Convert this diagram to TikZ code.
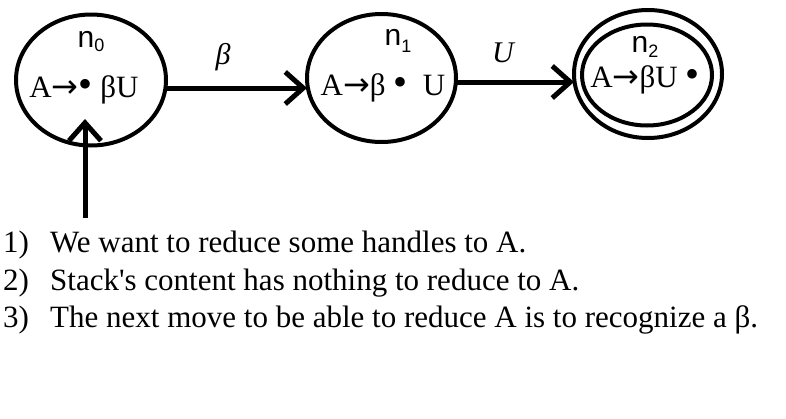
\documentclass[tikz,border=0pt]{standalone}
\usepackage{fontspec}
\setmainfont{Liberation Serif}
\newfontfamily\plainfont{Liberation Serif}
\newfontfamily\handfont{Liberation Sans}
\newfontfamily\arfont{DejaVu Sans}
\usetikzlibrary{shapes.geometric,arrows.meta}
\newcommand{\ar}{{\arfont\fontsize{32}{32}\selectfont →}}
\newcommand{\bul}{{\fontsize{40}{40}\selectfont •}}
\begin{document}
\begin{tikzpicture}[x=1pt,y=-1pt,
  state/.style={draw,ellipse,line width=4pt,inner sep=0pt,outer sep=0pt},
  item/.style={font=\fontsize{31}{31}\selectfont,inner sep=0pt},
  lab/.style={font=\fontsize{30}{30}\selectfont\itshape,inner sep=0pt},
  hand/.style={font=\fontsize{30}{30}\handfont,inner sep=0pt},
  txt/.style={font=\fontsize{31}{31}\plainfont,inner sep=0pt,anchor=base west},
  arr/.style={line width=5pt,-{Straight Barb[length=18pt,width=32pt,line width=5pt]}}
]
\useasboundingbox (0,0) rectangle (786,418);
\node[state,minimum width=150pt,minimum height=131pt] (n0) at (91,80) {};
\node[state,minimum width=149pt,minimum height=128pt] (n1) at (381.5,78) {};
\node[state,minimum width=148pt,minimum height=128pt] (n2) at (648,74) {};
\node[state,minimum width=130pt,minimum height=101pt] (n2i) at (647,75) {};
\node[item] (t0) at (84,90) {A\ar{}\bul{} βU};
\node[item] (t1) at (383,88) {A\ar{}β \bul{}\ \ U};
\node[item] (t2) at (645,80) {A\ar{}βU \bul{}};
\node[hand] (h0) at (91,42) {n\raisebox{-4pt}{\fontsize{18}{18}\selectfont 0}};
\node[hand] (h1) at (398,41) {n\raisebox{-7pt}{\fontsize{18}{18}\selectfont 1}};
\node[hand] (h2) at (645,47) {n\raisebox{-5pt}{\fontsize{18}{18}\selectfont 2}};
\coordinate (s0) at (85,218);
\draw[arr] (s0) -- (s0 |- 0,119);
\draw[arr] (n0.east |- t1) -- (n1.west |- t1);
\node[lab] (lb) at (223,57) {β};
\draw[arr] (n1.east |- 0,82) -- (n2.west |- 0,82);
\node[lab] (lu) at (503,53) {U};
\node[txt] (l1n) at (3,252) {1)};
\node[txt] (l1) at (50,252) {We want to reduce some handles to A.};
\node[txt] (l2n) at (3,290) {2)};
\node[txt] (l2) at (50,290) {Stack's content has nothing to reduce to A.};
\node[txt] (l3n) at (3,327) {3)};
\node[txt] (l3) at (50,327) {The next move to be able to reduce A is to recognize a β.};
\end{tikzpicture}
\end{document}
